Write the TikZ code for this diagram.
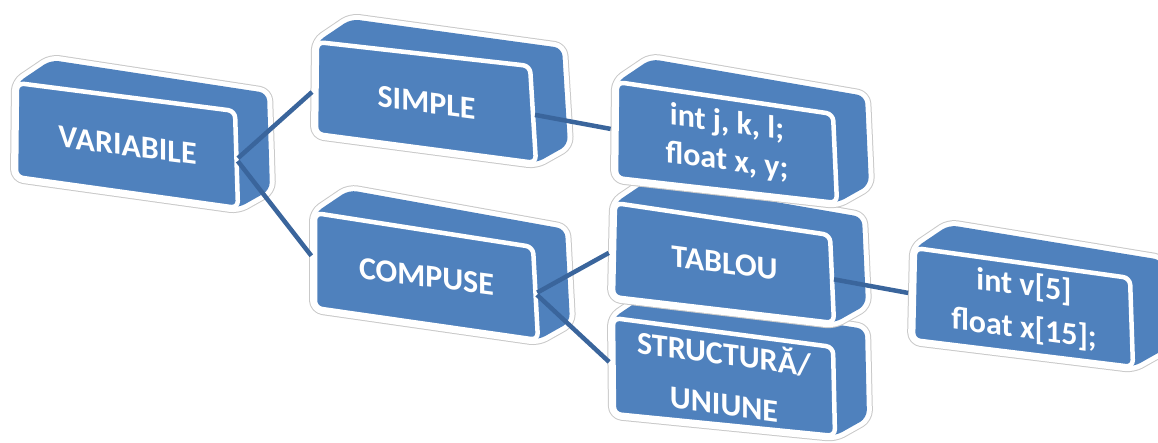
\documentclass[tikz,border=0pt]{standalone}
\usepackage{fontspec}
\setmainfont{Carlito}
\usetikzlibrary{calc}

\definecolor{boxblue}{HTML}{4F81BD}
\definecolor{linkblue}{HTML}{3A659C}
\definecolor{haloedge}{HTML}{C9C9C9}

\tikzset{
  halo edge/.style={draw=haloedge, line width=12pt, rounded corners=8pt, line join=round},
  halo/.style={draw=white, line width=10pt, rounded corners=8pt, line join=round},
  body/.style={fill=boxblue, rounded corners=8pt},
  face/.style={fill=boxblue, draw=white, line width=4.5pt, rounded corners=7pt, line join=round},
  lbl/.style={text=white, font=\fontsize{32}{38}\selectfont\bfseries, align=center,
              yslant=-0.13, inner sep=0pt},
  link/.style={draw=linkblue, line width=4.5pt, shorten <=2pt, shorten >=6pt},
}

% outline of a block: front face plus its top and right faces
\newcommand\silhouette[2]{%
  \path[#2] (#1-tl) -- ($(#1-tl)+(34,23)$) -- ($(#1-tr)+(32,18)$)
     -- ($(#1-br)+(32,18)$) -- (#1-br) -- (#1-bl) -- cycle;}

% a complete block: halo, depth faces, framed front face
\newcommand\cuboid[1]{%
  \silhouette{#1}{halo edge}%
  \silhouette{#1}{halo}%
  \silhouette{#1}{body}%
  \path[face] (#1-tl) -- (#1-tr) -- (#1-br) -- (#1-bl) -- cycle;
  \coordinate (#1-c) at ($(#1-tl)!.5!(#1-br)$);
  \coordinate (#1-w) at ($(#1-tl)!.5!(#1-bl)$);
  \coordinate (#1-e) at ($(#1-tr)!.5!(#1-br)$);}

\begin{document}
\begin{tikzpicture}[x=1pt, y=1pt]
\useasboundingbox (0,0) rectangle (1158,-442);

% front-face corners of each block
\coordinate (v-tl) at (17,-83);   \coordinate (v-tr) at (235,-111);
\coordinate (v-br) at (238,-208); \coordinate (v-bl) at (16,-177);

\coordinate (s-tl) at (317,-42);  \coordinate (s-tr) at (530,-66);
\coordinate (s-br) at (536,-163); \coordinate (s-bl) at (316,-134);

\coordinate (c-tl) at (315,-213); \coordinate (c-tr) at (533,-247);
\coordinate (c-br) at (538,-340); \coordinate (c-bl) at (315,-308);

\coordinate (i-tl) at (617,-82);  \coordinate (i-tr) at (833,-114);
\coordinate (i-br) at (837,-203); \coordinate (i-bl) at (616,-178);

\coordinate (t-tl) at (615,-203); \coordinate (t-tr) at (830,-235);
\coordinate (t-br) at (834,-323); \coordinate (t-bl) at (613,-297);

\coordinate (u-tl) at (613,-318); \coordinate (u-tr) at (833,-347);
\coordinate (u-br) at (835,-436); \coordinate (u-bl) at (614,-414);

\coordinate (a-tl) at (915,-248); \coordinate (a-tr) at (1130,-278);
\coordinate (a-br) at (1133,-367);\coordinate (a-bl) at (913,-340);

% blocks, back to front
\cuboid{v}
\cuboid{s}
\cuboid{c}
\cuboid{u}
\cuboid{t}
\cuboid{i}
\cuboid{a}

% labels
\node[lbl] (vt) at (v-c) {VARIABILE};
\node[lbl] (st) at (s-c) {SIMPLE};
\node[lbl] (ct) at (c-c) {COMPUSE};
\node[lbl] (it) at (i-c) {int j, k, l;\\float x, y;};
\node[lbl] (tt) at (t-c) {TABLOU};
\node[lbl, font=\fontsize{32}{50}\selectfont\bfseries] (ut) at (u-c) {STRUCTURĂ/\\UNIUNE};
\node[lbl, font=\fontsize{32}{43}\selectfont\bfseries] (at) at (a-c) {int v[5]\\float x[15];};

% connectors
\draw[link] (v-e) -- (s-w);
\draw[link] (v-e) -- (c-w);
\draw[link] (s-e) -- (i-w);
\draw[link] (c-e) -- (t-w);
\draw[link] (c-e) -- (u-w);
\draw[link] (t-e) -- (a-w);
\end{tikzpicture}
\end{document}
